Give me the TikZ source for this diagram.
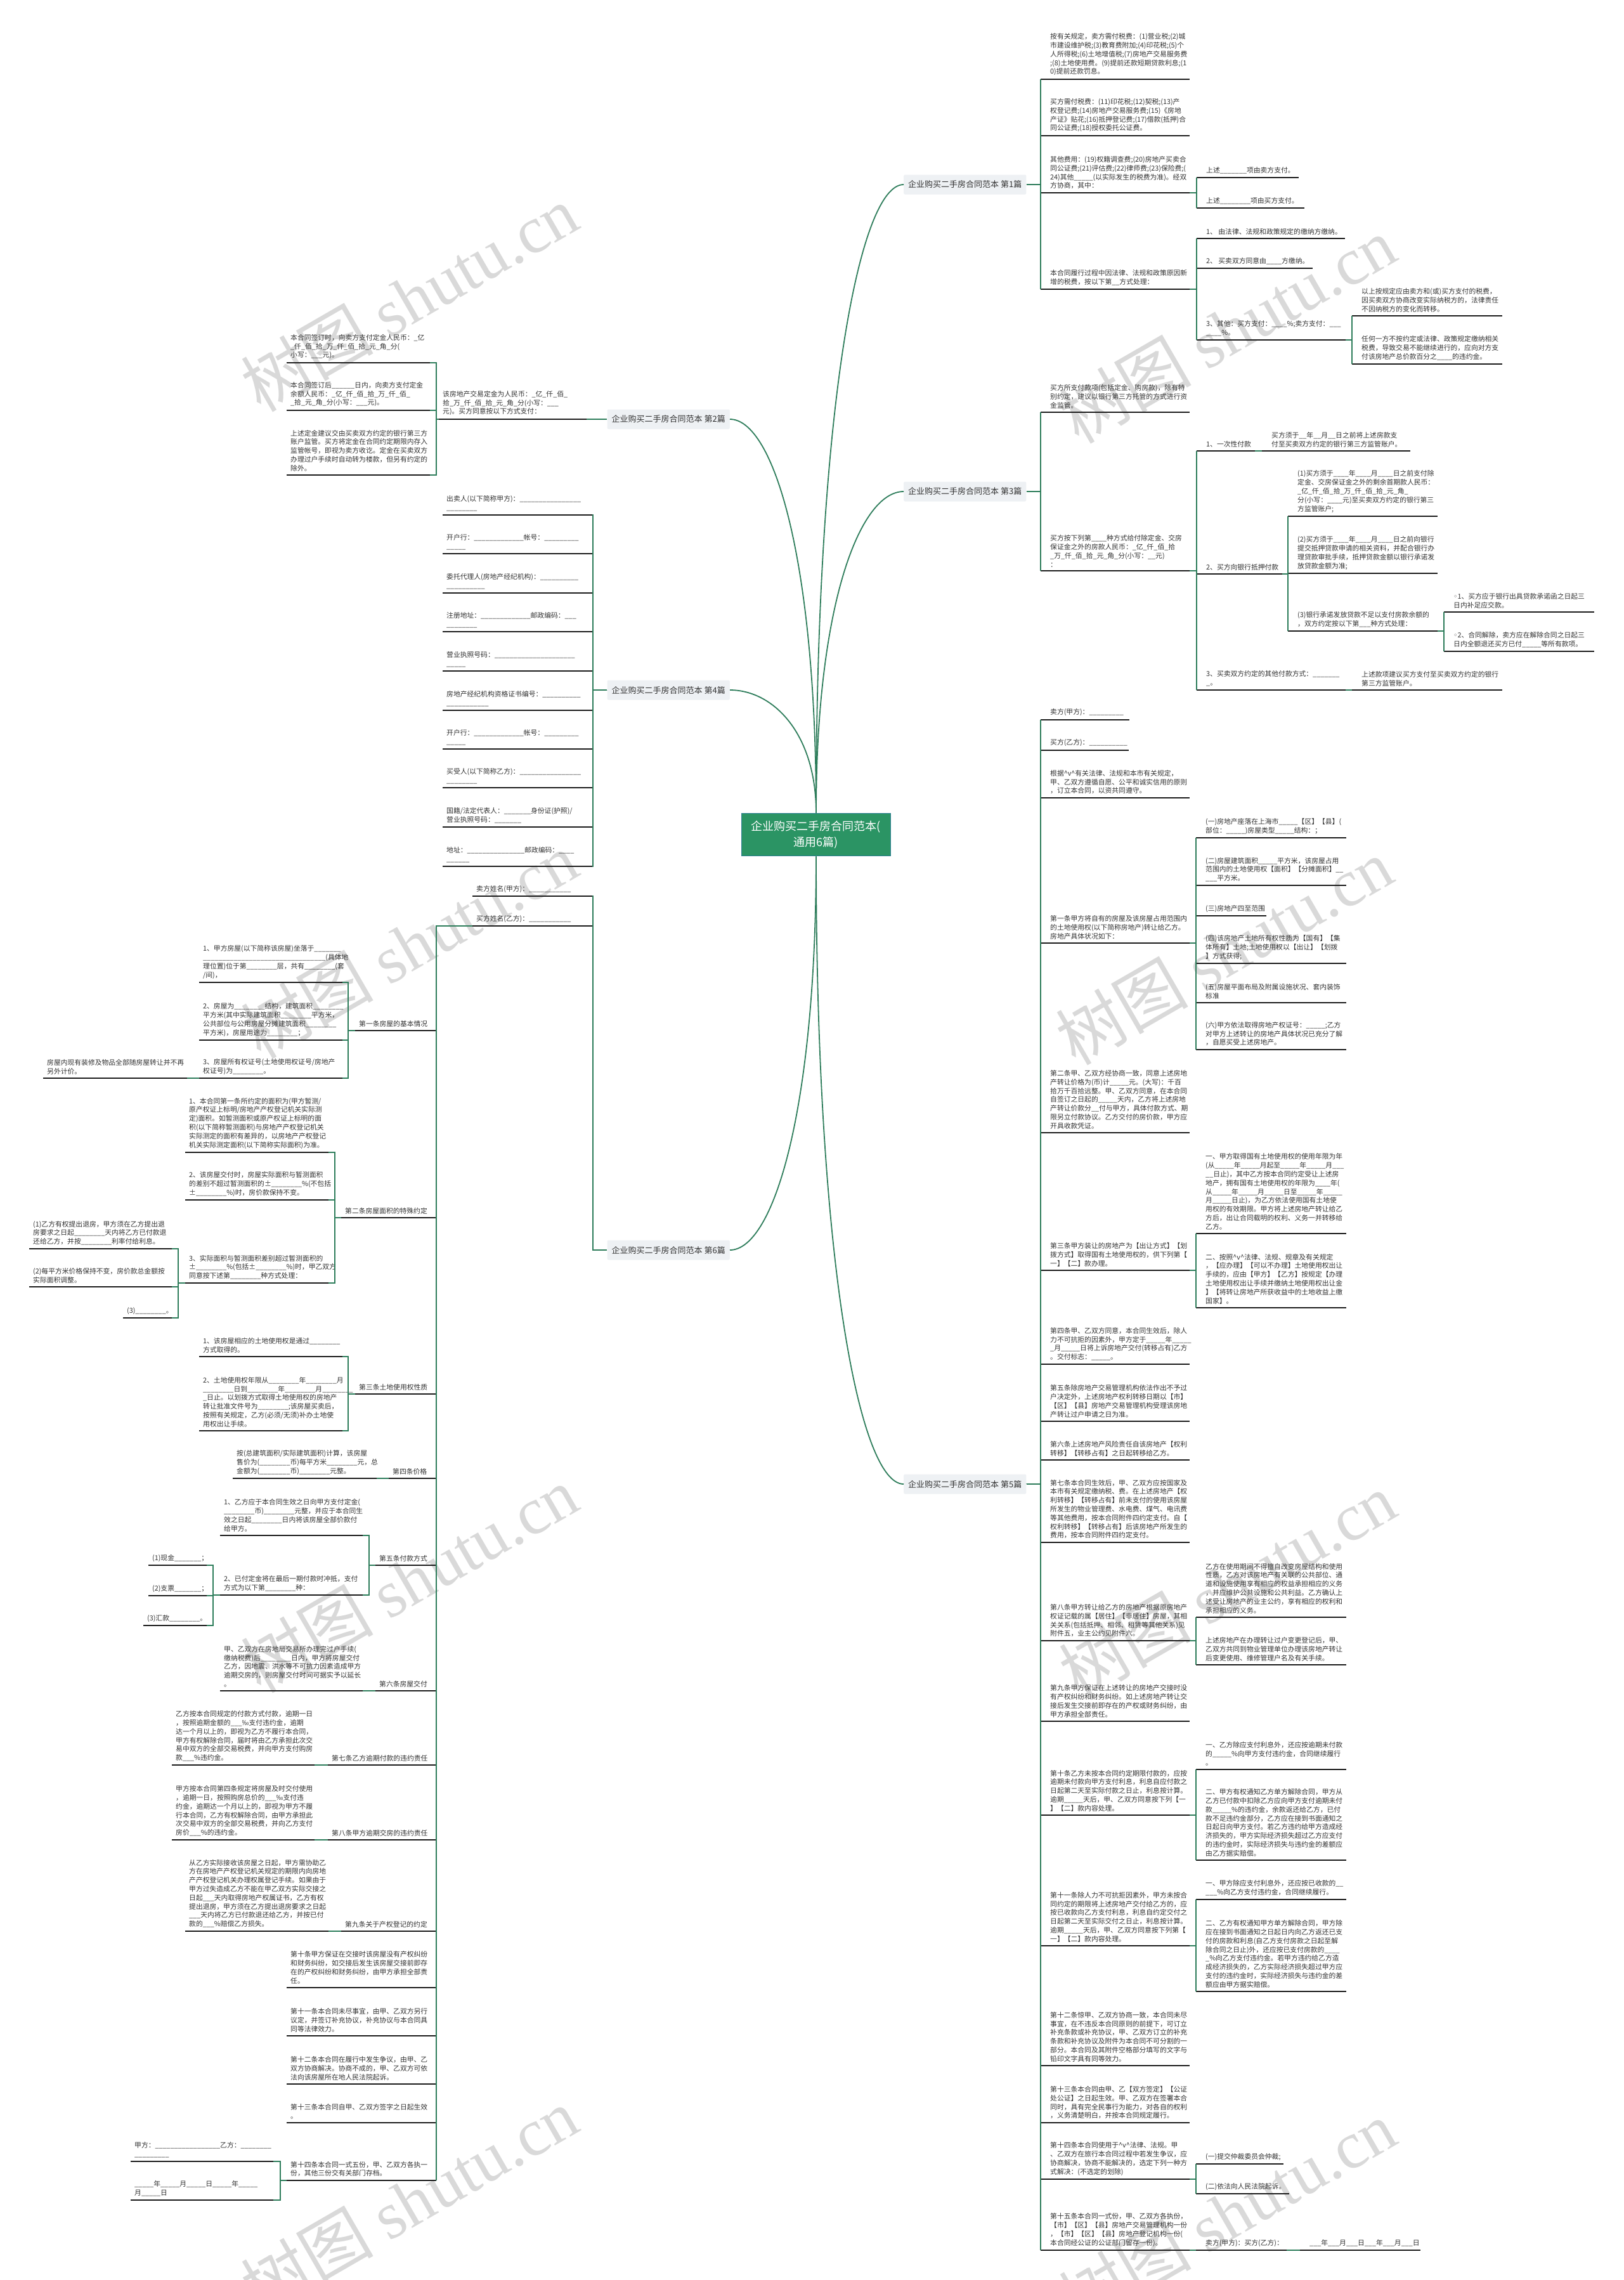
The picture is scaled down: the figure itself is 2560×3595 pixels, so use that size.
\documentclass[tikz,border=0pt]{standalone}
\usepackage{fontspec}
\setmainfont{Noto Sans CJK SC}
\newfontfamily\dvs{DejaVu Sans}
\newfontfamily\wmser{Liberation Serif}
\definecolor{lg}{HTML}{2E7D5B}
\definecolor{ulc}{HTML}{1C1C1C}
\definecolor{tx}{HTML}{333333}
\definecolor{lblc}{HTML}{EEF1F4}
\definecolor{ctrc}{HTML}{2B9464}
\definecolor{ctrd}{HTML}{2F7F95}
\definecolor{wmc}{HTML}{D9D9D9}
\newcount\blc
\newcommand\blnk[1]{\blc=#1\relax\loop\ifnum\blc>0 \_\advance\blc by -1\relax\repeat}
\newcommand\vv{\textasciicircum v\textasciicircum}
\tikzset{
 leaf/.style={anchor=south west, inner sep=0pt, align=left, text=tx, font=\fontsize{10.8}{13.8}\selectfont},
 uline/.style={draw=ulc, line width=2pt},
 conn/.style={draw=lg, line width=1.8pt},
 lbl/.style={fill=lblc, text=tx, font=\fontsize{13}{16}\selectfont, inner xsep=7pt, inner ysep=0pt, minimum height=31pt, rounded corners=2pt},
 ctrn/.style={fill=ctrc, draw=ctrd, line width=1.5pt, text=white, font=\fontsize{18}{25}\selectfont, align=center, minimum width=235pt, minimum height=67pt},
 wm/.style={text=wmc, rotate=30, font=\fontsize{105}{105}\selectfont}
}
\newcommand\rleaf[6]{%
 \node[leaf] (#1) at (#2+15,#4-5.7) {#6};
 \coordinate (#1-w) at (#2,#4);
 \coordinate (#1-e) at (#3,#4);
 \coordinate (#1-b) at (#5,#4);
 \draw[uline] (#1-w) -- (#1-e);}
\newcommand\lleaf[6]{%
 \node[leaf] (#1) at (#2+6,#4-5.7) {#6};
 \coordinate (#1-w) at (#2,#4);
 \coordinate (#1-e) at (#3,#4);
 \coordinate (#1-b) at (#5,#4);
 \draw[uline] (#1-w) -- (#1-e);}
\newcommand\rc[2]{\draw[conn] (#1-e) -- (#1-b) |- (#2-w);}
\newcommand\lc[2]{\draw[conn] (#1-w) -- (#1-b) |- (#2-e);}
\begin{document}
\begin{tikzpicture}[x=1pt,y=-1pt]
\fill[white] (0,0) rectangle (2560,3595);
\useasboundingbox (0,0) rectangle (2560,3595);
% watermarks
\foreach \p [count=\i] in {{645,470},{645,1490},{645,2490},{645,3470},{1935,520},{1930,1500},{1935,2500},{1935,3490}}
 {\node[wm] (wm\i) at (\p) {树图 {\wmser shutu.cn}};}

% centre and branch labels
\node[ctrn] (ctr) at (1287,1316) {企业购买二手房合同范本(\\通用6篇)};
\node[lbl, anchor=west] (R1) at (1425,291) {企业购买二手房合同范本 第1篇};
\node[lbl, anchor=west] (R3) at (1425,775) {企业购买二手房合同范本 第3篇};
\node[lbl, anchor=west] (R5) at (1425,2340) {企业购买二手房合同范本 第5篇};
\node[lbl, anchor=east] (L2) at (1151,661) {企业购买二手房合同范本 第2篇};
\node[lbl, anchor=east] (L4) at (1151,1088) {企业购买二手房合同范本 第4篇};
\node[lbl, anchor=east] (L6) at (1151,1971) {企业购买二手房合同范本 第6篇};
\coordinate (R1-b) at (1641,291);
\coordinate (R3-b) at (1641,775);
\coordinate (R5-b) at (1641,2340);
\coordinate (L2-b) at (935,661);
\coordinate (L4-b) at (935,1088);
\coordinate (L6-b) at (935,1971);

\draw[conn] (ctr.north) .. controls (1287,638) and (1356,291) .. (R1.west);
\draw[conn] (ctr.north) .. controls (1287,953) and (1356,775) .. (R3.west);
\draw[conn] (ctr.north) .. controls (1287,879) and (1219,661) .. (L2.east);
\draw[conn] (ctr.north) .. controls (1287,1156) and (1219,1088) .. (L4.east);
\draw[conn] (ctr.south) .. controls (1287,1754) and (1219,1971) .. (L6.east);
\draw[conn] (ctr.south) .. controls (1287,1993) and (1356,2340) .. (R5.west);

% ===== 第1篇 =====
\rleaf{p1a1}{1641}{1876}{125}{1641}{按有关规定，卖方需付税费：(1)营业税;(2)城\\市建设维护税;(3)教育费附加;(4)印花税;(5)个\\人所得税;(6)土地增值税;(7)房地产交易服务费\\;(8)土地使用费。(9)提前还款短期贷款利息;(1\\0)提前还款罚息。}
\rleaf{p1a2}{1641}{1876}{214}{1641}{买方需付税费：(11)印花税;(12)契税;(13)产\\权登记费;(14)房地产交易服务费;(15)《房地\\产证》贴花;(16)抵押登记费;(17)借款(抵押)合\\同公证费;(18)授权委托公证费。}
\rleaf{p1a3}{1641}{1876}{304}{1887}{其他费用：(19)权籍调查费;(20)房地产买卖合\\同公证费;(21)评估费;(22)律师费;(23)保险费;(\\24)其他\blnk{5}(以实际发生的税费为准)。经双\\方协商，其中：}
\rleaf{p1b1}{1887}{2048}{280}{1887}{上述\blnk{7}项由卖方支付。}
\rleaf{p1b2}{1887}{2057}{328}{1887}{上述\blnk{8}项由买方支付。}
\rleaf{p1a4}{1641}{1876}{456}{1887}{本合同履行过程中因法律、法规和政策原因新\\增的税费，按以下第\blnk{2}方式处理：}
\rleaf{p1b3}{1887}{2121}{376}{1887}{1、 由法律、法规和政策规定的缴纳方缴纳。}
\rleaf{p1b4}{1887}{2070}{423}{1887}{2、 买卖双方同意由\blnk{4}方缴纳。}
\rleaf{p1b5}{1887}{2122}{536}{2132}{3、其他：买方支付：\blnk{4}\%;卖方支付：\blnk{3}\\\blnk{4}\%。}
\rleaf{p1c1}{2132}{2369}{498}{2132}{以上按规定应由卖方和(或)买方支付的税费，\\因买卖双方协商改变实际纳税方的，法律责任\\不因纳税方的变化而转移。}
\rleaf{p1c2}{2132}{2369}{574}{2132}{任何一方不按约定或法律、政策规定缴纳相关\\税费，导致交易不能继续进行的，应向对方支\\付该房地产总价款百分之\blnk{4}的违约金。}

% ===== 第3篇 =====
\rleaf{p3a1}{1641}{1876}{650}{1641}{买方所支付款项(包括定金、购房款)，除有特\\别约定，建议以银行第三方托管的方式进行资\\金监管。}
\rleaf{p3a2}{1641}{1876}{900}{1887}{买方按下列第\blnk{4}种方式给付除定金、交房\\保证金之外的房款人民币：\_亿\_仟\_佰\_拾\\\_万\_仟\_佰\_拾\_元\_角\_分(小写：\blnk{2}元)\\：}
\rleaf{p3b1}{1887}{1979}{711}{1990}{1、一次性付款}
\rleaf{p3c1}{1990}{2224}{711}{1990}{买方须于\blnk{2}年\blnk{2}月\blnk{2}日之前将上述房款支\\付至买卖双方约定的银行第三方监管账户。}
\rleaf{p3b2}{1887}{2022}{905}{2031}{2、买方向银行抵押付款}
\rleaf{p3c2}{2031}{2267}{814}{2031}{(1)买方须于\blnk{4}年\blnk{4}月\blnk{4}日之前支付除\\定金、交房保证金之外的剩余首期款人民币：\\\_亿\_仟\_佰\_拾\_万\_仟\_佰\_拾\_元\_角\_\\分(小写：\blnk{4}元)至买卖双方约定的银行第三\\方监管账户;}
\rleaf{p3c3}{2031}{2267}{904}{2031}{(2)买方须于\blnk{4}年\blnk{4}月\blnk{4}日之前向银行\\提交抵押贷款申请的相关资料，并配合银行办\\理贷款审批手续，抵押贷款金额以银行承诺发\\放贷款金额为准;}
\rleaf{p3c4}{2031}{2267}{995}{2277}{(3)银行承诺发放贷款不足以支付房款余额的\\，双方约定按以下第\blnk{3}种方式处理：}
\rleaf{p3d1}{2277}{2514}{965}{2277}{{\dvs ◦}1、买方应于银行出具贷款承诺函之日起三\\日内补足应交款。}
\rleaf{p3d2}{2277}{2514}{1027}{2277}{{\dvs ◦}2、合同解除，卖方应在解除合同之日起三\\日内全额退还买方已付\blnk{5}等所有款项。}
\rleaf{p3b3}{1887}{2122}{1088}{2132}{3、买卖双方约定的其他付款方式：\blnk{7}\\\_。}
\rleaf{p3c5}{2132}{2369}{1088}{2132}{上述款项建议买方支付至买卖双方约定的银行\\第三方监管账户。}

% ===== 第5篇 =====
\rleaf{p5a1}{1641}{1781}{1135}{1641}{卖方(甲方)：\blnk{9}}
\rleaf{p5a2}{1641}{1780}{1183}{1641}{买方(乙方)：\blnk{10}}
\rleaf{p5a3}{1641}{1876}{1258}{1641}{根据\vv 有关法律、法规和本市有关规定，\\甲、乙双方遵循自愿、公平和诚实信用的原则\\，订立本合同，以资共同遵守。}
\rleaf{p5a4}{1641}{1876}{1487}{1886}{第一条甲方将自有的房屋及该房屋占用范围内\\的土地使用权(以下简称房地产)转让给乙方。\\房地产具体状况如下：}
\rleaf{p5b1}{1886}{2123}{1321}{1886}{(一)房地产座落在上海市\blnk{5}【区】【县】(\\部位：\blnk{5})房屋类型\blnk{5}结构：；}
\rleaf{p5b2}{1886}{2123}{1396}{1886}{(二)房屋建筑面积\blnk{5}平方米，该房屋占用\\范围内的土地使用权【面积】【分摊面积】\blnk{2}\\\blnk{3}平方米。}
\rleaf{p5b3}{1886}{1997}{1444}{1886}{(三)房地产四至范围}
\rleaf{p5b4}{1886}{2123}{1519}{1886}{(四)该房地产土地所有权性质为【国有】【集\\体所有】土地;土地使用权以【出让】【划拨\\】方式获得;}
\rleaf{p5b5}{1886}{2123}{1581}{1886}{(五)房屋平面布局及附属设施状况、套内装饰\\标准}
\rleaf{p5b6}{1886}{2123}{1655}{1886}{(六)甲方依法取得房地产权证号：\blnk{5};乙方\\对甲方上述转让的房地产具体状况已充分了解\\，自愿买受上述房地产。}
\rleaf{p5a5}{1641}{1876}{1786}{1641}{第二条甲、乙双方经协商一致，同意上述房地\\产转让价格为(币)计\blnk{5}元。(大写)：千百\\拾万千百拾远整。甲、乙双方同意，在本合同\\自签订之日起的\blnk{5}天内，乙方将上述房地\\产转让价款分\blnk{2}付与甲方，具体付款方式、期\\限另立付款协议。乙方交付的房价款，甲方应\\开具收款凭证。}
\rleaf{p5a6}{1641}{1876}{2003}{1886}{第三条甲方装让的房地产为【出让方式】【划\\拨方式】取得国有土地使用权的，供下列第【\\一】【二】款办理。}
\rleaf{p5b7}{1886}{2123}{1945}{1886}{一、甲方取得国有土地使用权的使用年限为年\\(从\blnk{5}年\blnk{5}月起至\blnk{5}年\blnk{5}月\blnk{3}\\\blnk{2}日止)，其中乙方按本合同约定受让上述房\\地产，拥有国有土地使用权的年限为\blnk{4}年(\\从\blnk{5}年\blnk{5}月\blnk{5}日至\blnk{5}年\blnk{5}\\月\blnk{5}日止)，为乙方依法使用国有土地使\\用权的有效期限。甲方将上述房地产转让给乙\\方后，出让合同载明的权利、义务一并转移给\\乙方。}
\rleaf{p5b8}{1886}{2123}{2062}{1886}{二、按照\vv 法律、法规、规章及有关规定\\，【应办理】【可以不办理】土地使用权出让\\手续的，应由【甲方】【乙方】按规定【办理\\土地使用权出让手续并缴纳土地使用权出让金\\】【将转让房地产所获收益中的土地收益上缴\\国家】。}
\rleaf{p5a7}{1641}{1876}{2151}{1641}{第四条甲、乙双方同意，本合同生效后，除人\\力不可抗拒的因素外，甲方定于\blnk{5}年\blnk{5}\\\_月\blnk{5}日将上诉房地产交付(转移占有)乙方\\。交付标志：\blnk{5}。}
\rleaf{p5a8}{1641}{1876}{2241}{1641}{第五条除房地产交易管理机构依法作出不予过\\户决定外，上述房地产权利转移日期以【市】\\【区】【县】房地产交易管理机构受理该房地\\产转让过户申请之日为准。}
\rleaf{p5a9}{1641}{1876}{2302}{1641}{第六条上述房地产风险责任自该房地产【权利\\转移】【转移占有】之日起转移给乙方。}
\rleaf{p5a10}{1641}{1876}{2432}{1641}{第七条本合同生效后，甲、乙双方应按国家及\\本市有关规定缴纳税、费。在上述房地产【权\\利转移】【转移占有】前未支付的使用该房屋\\所发生的物业管理费、水电费、煤气、电讯费\\等其他费用，按本合同附件四约定支付。自【\\权利转移】【转移占有】后该房地产所发生的\\费用，按本合同附件四约定支付。}
\rleaf{p5a11}{1641}{1876}{2587}{1886}{第八条甲方转让给乙方的房地产根据原房地产\\权证记载的属【居住】【非居住】房屋，其相\\关关系(包括抵押、相邻、租赁等其他关系)见\\附件五，业主公约见附件六。}
\rleaf{p5b9}{1886}{2123}{2550}{1886}{乙方在使用期间不得擅自改变房屋结构和使用\\性质，乙方对该房地产有关联的公共部位、通\\道和设施使用享有相应的权益承担相应的义务\\，并应维护公共设施和公共利益。乙方确认上\\述受让房地产的业主公约，享有相应的权利和\\承担相应的义务。}
\rleaf{p5b10}{1886}{2123}{2625}{1886}{上述房地产在办理转让过户变更登记后，甲、\\乙双方共同到物业管理单位办理该房地产转让\\后变更使用、维修管理户名及有关手续。}
\rleaf{p5a12}{1641}{1876}{2714}{1641}{第九条甲方保证在上述转让的房地产交接时没\\有产权纠纷和财务纠纷。如上述房地产转让交\\接后发生交接前即存在的产权或财务纠纷，由\\甲方承担全部责任。}
\rleaf{p5a13}{1641}{1876}{2862}{1886}{第十条乙方未按本合同约定期限付款的，应按\\逾期未付款向甲方支付利息，利息自应付款之\\日起第二天至实际付款之日止，利息按计算。\\逾期\blnk{5}天后，甲、乙双方同意按下列【一\\】【二】款内容处理。}
\rleaf{p5b11}{1886}{2123}{2790}{1886}{一、乙方除应支付利息外，还应按逾期未付款\\的\blnk{5}\%向甲方支付违约金，合同继续履行\\。}
\rleaf{p5b12}{1886}{2123}{2933}{1886}{二、甲方有权通知乙方单方解除合同，甲方从\\乙方已付款中扣除乙方应向甲方支付逾期未付\\款\blnk{5}\%的违约金，余款返还给乙方，已付\\款不足违约金部分，乙方应在接到书面通知之\\日起日向甲方支付。若乙方违约给甲方造成经\\济损失的，甲方实际经济损失超过乙方应支付\\的违约金时，实际经济损失与违约金的差额应\\由乙方据实赔偿。}
\rleaf{p5a14}{1641}{1876}{3068}{1886}{第十一条除人力不可抗拒因素外，甲方未按合\\同约定的期限将上述房地产交付给乙方的，应\\按已收款向乙方支付利息，利息自约定交付之\\日起第二天至实际交付之日止，利息按计算。\\逾期\blnk{5}天后，甲、乙双方同意按下列第【\\一】【二】款内容处理。}
\rleaf{p5b13}{1886}{2123}{2995}{1886}{一、甲方除应支付利息外，还应按已收款的\blnk{2}\\\blnk{3}\%向乙方支付违约金，合同继续履行。}
\rleaf{p5b14}{1886}{2123}{3140}{1886}{二、乙方有权通知甲方单方解除合同，甲方除\\应在接到书面通知之日起日内向乙方返还已支\\付的房款和利息(自乙方支付房款之日起至解\\除合同之日止)外，还应按已支付房款的\blnk{4}\\\_\%向乙方支付违约金。若甲方违约给乙方造\\成经济损失的，乙方实际经济损失超过甲方应\\支付的违约金时，实际经济损失与违约金的差\\额应由甲方据实赔偿。}
\rleaf{p5a15}{1641}{1876}{3257}{1641}{第十二条惊甲、乙双方协商一致，本合同未尽\\事宜，在不违反本合同原则的前提下，可订立\\补充条款或补充协议，甲、乙双方订立的补充\\条款和补充协议及附件为本合同不可分割的一\\部分。本合同及其附件空格部分填写的文字与\\铅印文字具有同等效力。}
\rleaf{p5a16}{1641}{1876}{3347}{1641}{第十三条本合同由甲、乙【双方签定】【公证\\处公证】之日起生效。甲、乙双方在签署本合\\同时，具有完全民事行为能力，对各自的权利\\，义务清楚明白，并按本合同规定履行。}
\rleaf{p5a17}{1641}{1876}{3436}{1886}{第十四条本合同使用于\vv 法律、法规。甲\\、乙双方在旅行本合同过程中若发生争议，应\\协商解决，协商不能解决的，选定下列一种方\\式解决：(不选定的划除)}
\rleaf{p5b15}{1886}{2024}{3412}{1886}{(一)提交仲裁委员会仲裁;}
\rleaf{p5b16}{1886}{2033}{3459}{1886}{(二)依法向人民法院起诉。}
\rleaf{p5a18}{1641}{1876}{3548}{1886}{第十五条本合同一式份，甲、乙双方各执份，\\【市】【区】【县】房地产交易管理机构一份\\，【市】【区】【县】房地产登记机构一份(\\本合同经公证的公证部门留存一份)。}
\rleaf{p5b17}{1886}{2029}{3548}{2050}{卖方(甲方)：买方(乙方)：}
\rleaf{p5c1}{2050}{2240}{3548}{2050}{\blnk{3}年\blnk{3}月\blnk{3}日\blnk{3}年\blnk{3}月\blnk{3}日}

% ===== 第2篇 =====
\lleaf{p2a1}{692}{925}{661}{688}{该房地产交易定金为人民币：\_亿\_仟\_佰\_\\拾\_万\_仟\_佰\_拾\_元\_角\_分(小写：\blnk{3}\\元)。买方同意按以下方式支付：}
\lleaf{p2b1}{452}{678}{572}{452}{本合同签订时，向卖方支付定金人民币：\_亿\\\_仟\_佰\_拾\_万\_仟\_佰\_拾\_元\_角\_分(\\小写：\blnk{3}元)。}
\lleaf{p2b2}{452}{678}{647}{452}{本合同签订后\blnk{6}日内，向卖方支付定金\\余额人民币：\_亿\_仟\_佰\_拾\_万\_仟\_佰\_\\\_拾\_元\_角\_分(小写：\blnk{3}元)。}
\lleaf{p2b3}{452}{678}{749}{452}{上述定金建议交由买卖双方约定的银行第三方\\账户监管。买方将定金在合同约定期限内存入\\监管帐号，即视为卖方收讫。定金在买卖双方\\办理过户手续时自动转为楼款，但另有约定的\\除外。}

% ===== 第4篇 =====
\lleaf{p4a1}{698}{934}{812}{698}{出卖人(以下简称甲方)：\blnk{16}\\\blnk{8}}
\lleaf{p4a2}{698}{934}{873}{698}{开户行：\blnk{13}帐号：\blnk{9}\\\blnk{5}}
\lleaf{p4a3}{698}{934}{935}{698}{委托代理人(房地产经纪机构)：\blnk{10}\\\blnk{10}}
\lleaf{p4a4}{698}{934}{996}{698}{注册地址：\blnk{13}邮政编码：\blnk{3}\\\blnk{8}}
\lleaf{p4a5}{698}{934}{1058}{698}{营业执照号码：\blnk{21}\\\blnk{5}}
\lleaf{p4a6}{698}{934}{1120}{698}{房地产经纪机构资格证书编号：\blnk{10}\\\blnk{11}}
\lleaf{p4a7}{698}{934}{1181}{698}{开户行：\blnk{13}帐号：\blnk{9}\\\blnk{5}}
\lleaf{p4a8}{698}{934}{1242}{698}{买受人(以下简称乙方)：\blnk{16}\\\blnk{8}}
\lleaf{p4a9}{698}{934}{1304}{698}{国籍/法定代表人：\blnk{7}身份证(护照)/\\营业执照号码：\blnk{7}}
\lleaf{p4a10}{698}{934}{1366}{698}{地址：\blnk{15}邮政编码：\blnk{4}\\\blnk{6}}

% ===== 第6篇 =====
\lleaf{p6a1}{745}{934}{1413}{745}{卖方姓名(甲方)：\blnk{11}}
\lleaf{p6a2}{745}{934}{1460}{688}{买方姓名(乙方)：\blnk{11}}
\lleaf{p6b1}{560}{688}{1625}{549}{第一条房屋的基本情况}
\lleaf{p6c1}{314}{540}{1549}{314}{1、甲方房屋(以下简称该房屋)坐落于\blnk{7}\\\blnk{32}(具体地\\理位置)位于第\blnk{8}层，共有\blnk{8}(套\\/间)，}
\lleaf{p6c2}{314}{540}{1640}{314}{2、房屋为\blnk{8}结构，建筑面积\blnk{8}\\平方米(其中实际建筑面积\blnk{8}平方米，\\公共部位与公用房屋分摊建筑面积\blnk{8}\\平方米)，房屋用途为\blnk{8}；}
\lleaf{p6c3}{314}{540}{1700}{305}{3、房屋所有权证号(土地使用权证号/房地产\\权证号)为\blnk{8}。}
\lleaf{p6d1}{68}{295}{1700}{68}{房屋内现有装修及物品全部随房屋转让并不再\\另外计价。}
\lleaf{p6b2}{538}{688}{1920}{528}{第二条房屋面积的特殊约定}
\lleaf{p6c4}{292}{518}{1817}{292}{1、本合同第一条所约定的面积为(甲方暂测/\\原产权证上标明/房地产产权登记机关实际测\\定)面积。如暂测面积或原产权证上标明的面\\积(以下简称暂测面积)与房地产产权登记机关\\实际测定的面积有差异的，以房地产产权登记\\机关实际测定面积(以下简称实际面积)为准。}
\lleaf{p6c5}{292}{518}{1892}{292}{2、该房屋交付时，房屋实际面积与暂测面积\\的差别不超过暂测面积的±\blnk{8}\%(不包括\\±\blnk{8}\%)时，房价款保持不变。}
\lleaf{p6c6}{292}{518}{2023}{281}{3、实际面积与暂测面积差别超过暂测面积的\\±\blnk{8}\%(包括±\blnk{8}\%)时，甲乙双方\\同意按下述第\blnk{8}种方式处理：}
\lleaf{p6d2}{46}{271}{1969}{46}{(1)乙方有权提出退房，甲方须在乙方提出退\\房要求之日起\blnk{8}天内将乙方已付款退\\还给乙方，并按\blnk{8}利率付给利息。}
\lleaf{p6d3}{46}{271}{2029}{46}{(2)每平方米价格保持不变，房价款总金额按\\实际面积调整。}
\lleaf{p6d4}{194}{271}{2078}{194}{(3)\blnk{8}。}
\lleaf{p6b3}{560}{688}{2198}{549}{第三条土地使用权性质}
\lleaf{p6c7}{314}{540}{2139}{314}{1、该房屋相应的土地使用权是通过\blnk{8}\\方式取得的。}
\lleaf{p6c8}{314}{540}{2256}{314}{2、土地使用权年限从\blnk{8}年\blnk{8}月\\\blnk{8}日到\blnk{8}年\blnk{8}月\blnk{8}\\\_日止。以划拨方式取得土地使用权的房地产\\转让批准文件号为\blnk{8};该房屋买卖后，\\按照有关规定，乙方(必须/无须)补办土地使\\用权出让手续。}
\lleaf{p6b4}{613}{688}{2331}{603}{第四条价格}
\lleaf{p6c9}{367}{594}{2331}{367}{按(总建筑面积/实际建筑面积)计算，该房屋\\售价为(\blnk{8}币)每平方米\blnk{8}元，总\\金额为(\blnk{8}币)\blnk{8}元整。}
\lleaf{p6b5}{592}{688}{2468}{582}{第五条付款方式}
\lleaf{p6c10}{347}{572}{2421}{347}{1、乙方应于本合同生效之日向甲方支付定金(\\\blnk{8}币)\blnk{8}元整，并应于本合同生\\效之日起\blnk{8}日内将该房屋全部价款付\\给甲方。}
\lleaf{p6c11}{347}{572}{2515}{336}{2、已付定金将在最后一期付款时冲抵，支付\\方式为以下第\blnk{8}种：}
\lleaf{p6d5}{234}{326}{2468}{234}{(1)现金\blnk{7}；}
\lleaf{p6d6}{234}{326}{2516}{234}{(2)支票\blnk{7}；}
\lleaf{p6d7}{226}{326}{2563}{226}{(3)汇款\blnk{8}。}
\lleaf{p6b6}{592}{688}{2666}{582}{第六条房屋交付}
\lleaf{p6c12}{347}{572}{2666}{347}{甲、乙双方在房地局交易所办理完过户手续(\\缴纳税费)后\blnk{8}日内，甲方将房屋交付\\乙方，因地震、洪水等不可抗力因素造成甲方\\逾期交房的，则房屋交付时间可据实予以延长\\。}
\lleaf{p6b7}{517}{688}{2783}{507}{第七条乙方逾期付款的违约责任}
\lleaf{p6c13}{271}{496}{2783}{271}{乙方按本合同规定的付款方式付款，逾期一日\\，按照逾期金额的\blnk{3}‰支付违约金，逾期\\达一个月以上的，即视为乙方不履行本合同，\\甲方有权解除合同，届时将由乙方承担此次交\\易中双方的全部交易税费，并向甲方支付购房\\款\blnk{3}\%违约金。}
\lleaf{p6b8}{517}{688}{2901}{507}{第八条甲方逾期交房的违约责任}
\lleaf{p6c14}{271}{496}{2901}{271}{甲方按本合同第四条规定将房屋及时交付使用\\，逾期一日，按照购房总价的\blnk{3}‰支付违\\约金，逾期达一个月以上的，即视为甲方不履\\行本合同，乙方有权解除合同，由甲方承担此\\次交易中双方的全部交易税费，并向乙方支付\\房价\blnk{3}\%的违约金。}
\lleaf{p6b9}{538}{688}{3045}{528}{第九条关于产权登记的约定}
\lleaf{p6c15}{292}{518}{3045}{292}{从乙方实际接收该房屋之日起，甲方需协助乙\\方在房地产产权登记机关规定的期限内向房地\\产产权登记机关办理权属登记手续。如果由于\\甲方过失造成乙方不能在甲乙双方实际交接之\\日起\blnk{3}天内取得房地产权属证书，乙方有权\\提出退房，甲方须在乙方提出退房要求之日起\\\blnk{3}天内将乙方已付款退还给乙方，并按已付\\款的\blnk{3}\%赔偿乙方损失。}
\lleaf{p6b10}{452}{688}{3134}{452}{第十条甲方保证在交接时该房屋没有产权纠纷\\和财务纠纷，如交接后发生该房屋交接前即存\\在的产权纠纷和财务纠纷，由甲方承担全部责\\任。}
\lleaf{p6b11}{452}{688}{3210}{452}{第十一条本合同未尽事宜，由甲、乙双方另行\\议定，并签订补充协议，补充协议与本合同具\\同等法律效力。}
\lleaf{p6b12}{452}{688}{3286}{452}{第十二条本合同在履行中发生争议，由甲、乙\\双方协商解决。协商不成的，甲、乙双方可依\\法向该房屋所在地人民法院起诉。}
\lleaf{p6b13}{452}{688}{3347}{452}{第十三条本合同自甲、乙双方签字之日起生效\\。}
\lleaf{p6b14}{452}{688}{3438}{442}{第十四条本合同一式五份，甲、乙双方各执一\\份，其他三份交有关部门存档。}
\lleaf{p6c16}{206}{431}{3408}{206}{甲方：\blnk{17}乙方：\blnk{8}\\\blnk{9}}
\lleaf{p6c17}{206}{431}{3469}{206}{\blnk{5}年\blnk{5}月\blnk{5}日\blnk{5}年\blnk{5}\\月\blnk{5}日}

% ===== connectors =====
\foreach \c in {p1a1,p1a2,p1a3,p1a4} {\draw[conn] (R1.east) -- (R1-b) |- (\c-w);}
\foreach \c in {p3a1,p3a2} {\draw[conn] (R3.east) -- (R3-b) |- (\c-w);}
\foreach \c in {p5a1,p5a2,p5a3,p5a4,p5a5,p5a6,p5a7,p5a8,p5a9,p5a10,p5a11,p5a12,p5a13,p5a14,p5a15,p5a16,p5a17,p5a18} {\draw[conn] (R5.east) -- (R5-b) |- (\c-w);}
\draw[conn] (L2.west) -- (L2-b) |- (p2a1-e);
\foreach \c in {p4a1,p4a2,p4a3,p4a4,p4a5,p4a6,p4a7,p4a8,p4a9,p4a10} {\draw[conn] (L4.west) -- (L4-b) |- (\c-e);}
\foreach \c in {p6a1,p6a2} {\draw[conn] (L6.west) -- (L6-b) |- (\c-e);}

\foreach \c in {p1b1,p1b2} {\rc{p1a3}{\c}}
\foreach \c in {p1b3,p1b4,p1b5} {\rc{p1a4}{\c}}
\foreach \c in {p1c1,p1c2} {\rc{p1b5}{\c}}
\foreach \c in {p3b1,p3b2,p3b3} {\rc{p3a2}{\c}}
\rc{p3b1}{p3c1}
\foreach \c in {p3c2,p3c3,p3c4} {\rc{p3b2}{\c}}
\foreach \c in {p3d1,p3d2} {\rc{p3c4}{\c}}
\rc{p3b3}{p3c5}
\foreach \c in {p5b1,p5b2,p5b3,p5b4,p5b5,p5b6} {\rc{p5a4}{\c}}
\foreach \c in {p5b7,p5b8} {\rc{p5a6}{\c}}
\foreach \c in {p5b9,p5b10} {\rc{p5a11}{\c}}
\foreach \c in {p5b11,p5b12} {\rc{p5a13}{\c}}
\foreach \c in {p5b13,p5b14} {\rc{p5a14}{\c}}
\foreach \c in {p5b15,p5b16} {\rc{p5a17}{\c}}
\rc{p5a18}{p5b17}
\rc{p5b17}{p5c1}

\foreach \c in {p2b1,p2b2,p2b3} {\lc{p2a1}{\c}}
\foreach \c in {p6b1,p6b2,p6b3,p6b4,p6b5,p6b6,p6b7,p6b8,p6b9,p6b10,p6b11,p6b12,p6b13,p6b14} {\lc{p6a2}{\c}}
\foreach \c in {p6c1,p6c2,p6c3} {\lc{p6b1}{\c}}
\lc{p6c3}{p6d1}
\foreach \c in {p6c4,p6c5,p6c6} {\lc{p6b2}{\c}}
\foreach \c in {p6d2,p6d3,p6d4} {\lc{p6c6}{\c}}
\foreach \c in {p6c7,p6c8} {\lc{p6b3}{\c}}
\lc{p6b4}{p6c9}
\foreach \c in {p6c10,p6c11} {\lc{p6b5}{\c}}
\foreach \c in {p6d5,p6d6,p6d7} {\lc{p6c11}{\c}}
\lc{p6b6}{p6c12}
\lc{p6b7}{p6c13}
\lc{p6b8}{p6c14}
\lc{p6b9}{p6c15}
\foreach \c in {p6c16,p6c17} {\lc{p6b14}{\c}}
\end{tikzpicture}
\end{document}
